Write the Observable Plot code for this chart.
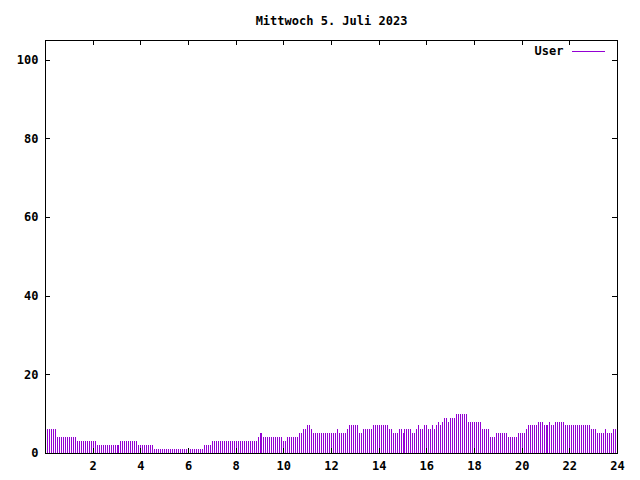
<!DOCTYPE html>
<html><head><meta charset="utf-8">
<script src="https://cdn.jsdelivr.net/npm/d3@7"></script>
<script src="https://cdn.jsdelivr.net/npm/@observablehq/plot@0.6"></script>
<style>body{margin:0;background:#fff} svg{display:block}</style>
</head><body><div id="chart"></div>
<script>
const title = "Mittwoch 5. Juli 2023";
const seriesName = "User";
const xTicks = [2, 4, 6, 8, 10, 12, 14, 16, 18, 20, 22, 24];
const yTicks = [0, 20, 40, 60, 80, 100];
// one value per 5-minute sample, 12 per hour, from 00:00 to 23:55
const users = [
  6,6,6,6,6,6,4,4,4,4,4,4,
  4,4,4,4,3,3,3,3,3,3,3,3,
  3,3,2,2,2,2,2,2,2,2,2,2,
  2,2,3,3,3,3,3,3,3,3,3,2,
  2,2,2,2,2,2,2,1,1,1,1,1,
  1,1,1,1,1,1,1,1,1,1,1,1,
  1,1,1,1,1,1,1,1,2,2,2,2,
  3,3,3,3,3,3,3,3,3,3,3,3,
  3,3,3,3,3,3,3,3,3,3,3,4,
  5,5,4,4,4,4,4,4,4,4,4,4,
  3,3,4,4,4,4,4,4,5,5,6,6,
  7,7,6,5,5,5,5,5,5,5,5,5,
  5,5,5,6,5,5,5,5,6,7,7,7,
  7,7,5,5,6,6,6,6,6,7,7,7,
  7,7,7,7,7,6,6,5,5,5,6,6,
  5,6,6,6,6,5,5,6,7,6,6,7,
  7,6,6,7,6,7,8,7,8,9,9,8,
  9,9,9,10,10,10,10,10,10,8,8,8,
  8,8,8,8,6,6,6,6,4,4,4,5,
  5,5,5,5,5,4,4,4,4,4,5,5,
  5,5,6,7,7,7,7,7,8,8,8,7,
  7,7,8,7,7,8,8,8,8,8,7,7,
  7,7,7,7,7,7,7,7,7,7,7,6,
  6,6,5,5,5,5,6,5,5,5,6,6
];
const samplesPerHour = 12;
const purple = "#9400d3";

const data = users.map((v, i) => ({hour: i / samplesPerHour, users: v}));

const W = 640, H = 480;
const mL = 45, mR = 23, mT = 40, mB = 27;
const fw = W - mL - mR, fh = H - mT - mB;
const tick = 5;

const chart = Plot.plot({
  width: W, height: H,
  marginLeft: mL, marginRight: mR, marginTop: mT, marginBottom: mB,
  style: {fontFamily: "'DejaVu Sans Mono', monospace", fontSize: "12px", fontWeight: "bold", color: "black", background: "white"},
  x: {domain: [0, 24]},
  y: {domain: [0, 105]},
  marks: [
    Plot.ruleX(data, {x: "hour", y: "users", stroke: purple, strokeWidth: 1, shapeRendering: "crispEdges"}),
    Plot.frame({stroke: "black", shapeRendering: "crispEdges"}),
    Plot.axisX({ticks: xTicks, tickSize: 0, tickPadding: 8, tickFormat: d => String(d), label: null}),
    Plot.axisY({ticks: yTicks, tickSize: 0, tickPadding: 7, tickFormat: d => String(d), label: null}),
    Plot.tickX(xTicks, {x: d => d, insetTop: fh - tick, stroke: "black", shapeRendering: "crispEdges"}),
    Plot.tickX(xTicks, {x: d => d, insetBottom: fh - tick, stroke: "black", shapeRendering: "crispEdges"}),
    Plot.tickY(yTicks, {y: d => d, insetRight: fw - tick, stroke: "black", shapeRendering: "crispEdges"}),
    Plot.tickY(yTicks, {y: d => d, insetLeft: fw - tick, stroke: "black", shapeRendering: "crispEdges"}),
    Plot.text([title], {text: d => d, frameAnchor: "top", dy: -16, lineAnchor: "bottom", fontSize: 12, fontWeight: "bold"}),
    Plot.text([seriesName], {text: d => d, frameAnchor: "top-right", dx: -54, dy: 11, lineAnchor: "middle", textAnchor: "end", fontSize: 12, fontWeight: "bold"}),
    Plot.ruleY([seriesName], {y: null, insetLeft: fw - 45, insetRight: 12, dy: 51 - (mT + fh / 2), stroke: purple, strokeWidth: 1, shapeRendering: "crispEdges"})
  ]
});
document.getElementById("chart").appendChild(chart);
</script>
</body></html>
